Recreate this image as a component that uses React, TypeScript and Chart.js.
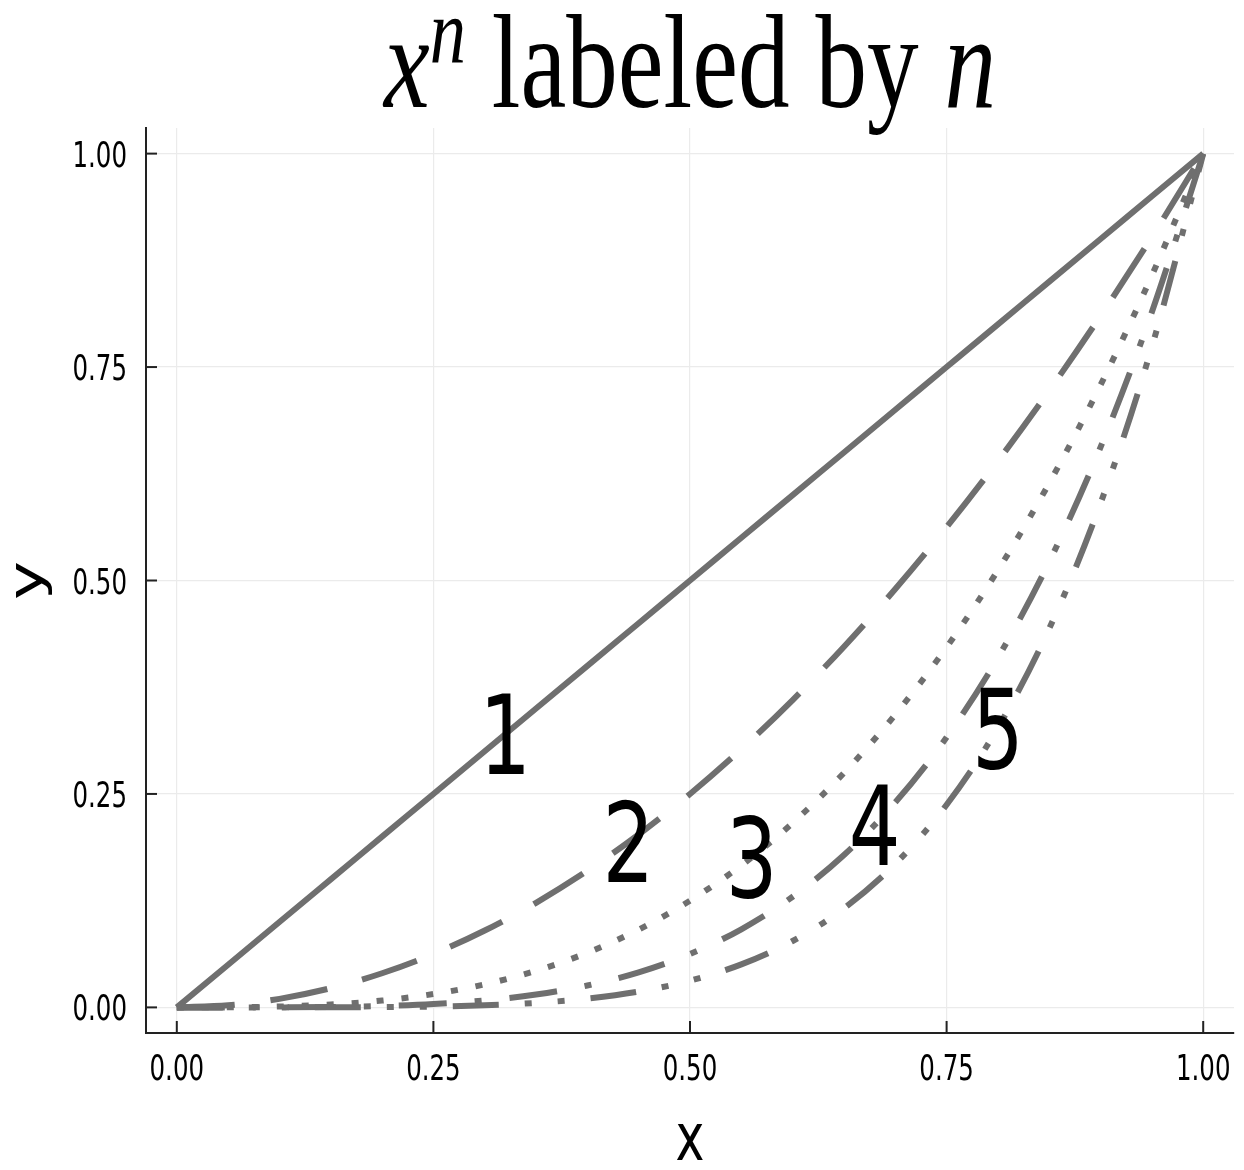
import React, { useEffect, useRef } from "react";
import { Chart, registerables } from "chart.js";

Chart.register(...registerables);

// ---- data ----
const xValues = [0, 0.05, 0.1, 0.15, 0.2, 0.25, 0.3, 0.35, 0.4, 0.45, 0.5, 0.55, 0.6, 0.65, 0.7, 0.75, 0.8, 0.85, 0.9, 0.95, 1];
const yPow1 = [0, 0.05, 0.1, 0.15, 0.2, 0.25, 0.3, 0.35, 0.4, 0.45, 0.5, 0.55, 0.6, 0.65, 0.7, 0.75, 0.8, 0.85, 0.9, 0.95, 1];
const yPow2 = [0, 0.0025, 0.01, 0.0225, 0.04, 0.0625, 0.09, 0.1225, 0.16, 0.2025, 0.25, 0.3025, 0.36, 0.4225, 0.49, 0.5625, 0.64, 0.7225, 0.81, 0.9025, 1];
const yPow3 = [0, 0.000125, 0.001, 0.003375, 0.008, 0.015625, 0.027, 0.042875, 0.064, 0.091125, 0.125, 0.166375, 0.216, 0.274625, 0.343, 0.421875, 0.512, 0.614125, 0.729, 0.857375, 1];
const yPow4 = [0, 0.00000625, 0.0001, 0.00050625, 0.0016, 0.00390625, 0.0081, 0.01500625, 0.0256, 0.04100625, 0.0625, 0.09150625, 0.1296, 0.17850625, 0.2401, 0.31640625, 0.4096, 0.52200625, 0.6561, 0.81450625, 1];
const yPow5 = [0, 0.0000003, 0.00001, 0.0000759, 0.00032, 0.000977, 0.00243, 0.00525, 0.01024, 0.01845, 0.03125, 0.05033, 0.07776, 0.11603, 0.16807, 0.2373, 0.32768, 0.44371, 0.59049, 0.77378, 1];
const seriesNames = ["1", "2", "3", "4", "5"];

const annotationX = [0.32, 0.44, 0.56, 0.68, 0.8];
const annotationY = [0.32, 0.1936, 0.1756, 0.2138, 0.3277];
const annotationText = ["1", "2", "3", "4", "5"];

const tickValues = [0, 0.25, 0.5, 0.75, 1];
const tickLabels = ["0.00", "0.25", "0.50", "0.75", "1.00"];

const xAxisTitle = "x";
const yAxisTitle = "y";

// ---- styles ----
const LINE_COLOR = "#6f6f6f";
const DASHES: number[][] = [[], [58, 36], [7, 18], [48, 28, 7, 28], [46, 26, 7, 26, 7, 26]];

function drawText(
  ctx: CanvasRenderingContext2D,
  text: string,
  x: number,
  y: number,
  font: string,
  align: CanvasTextAlign,
  compress: number
) {
  ctx.save();
  ctx.translate(x, y);
  ctx.scale(compress, 1);
  ctx.font = font;
  ctx.textAlign = align;
  ctx.textBaseline = "alphabetic";
  ctx.fillStyle = "#000";
  ctx.fillText(text, 0, 0);
  ctx.restore();
}

const textPlugin = {
  id: "juliaText",
  afterDraw(chart: any) {
    const ctx: CanvasRenderingContext2D = chart.ctx;
    const sx = chart.scales.x;
    const sy = chart.scales.y;
    const area = chart.chartArea;

    // inward ticks
    ctx.save();
    ctx.strokeStyle = "#222";
    ctx.lineWidth = 2;
    tickValues.forEach((v) => {
      const px = sx.getPixelForValue(v);
      ctx.beginPath();
      ctx.moveTo(px, area.bottom);
      ctx.lineTo(px, area.bottom - 12);
      ctx.stroke();
      const py = sy.getPixelForValue(v);
      ctx.beginPath();
      ctx.moveTo(area.left, py);
      ctx.lineTo(area.left + 11, py);
      ctx.stroke();
    });
    ctx.restore();

    // tick labels
    const tickFont = '36px "DejaVu Sans"';
    tickValues.forEach((v, i) => {
      drawText(ctx, tickLabels[i], sx.getPixelForValue(v), area.bottom + 47, tickFont, "center", 0.68);
      drawText(ctx, tickLabels[i], area.left - 19, sy.getPixelForValue(v) + 13, tickFont, "right", 0.68);
    });

    // axis titles
    const guideFont = '66px "DejaVu Sans"';
    const cx = (area.left + area.right) / 2;
    drawText(ctx, xAxisTitle, cx, area.bottom + 127, guideFont, "center", 0.74);
    ctx.save();
    ctx.translate(42, (area.top + area.bottom) / 2);
    ctx.rotate(-Math.PI / 2);
    ctx.scale(1, 0.74);
    ctx.font = guideFont;
    ctx.textAlign = "center";
    ctx.textBaseline = "alphabetic";
    ctx.fillStyle = "#000";
    ctx.fillText(yAxisTitle, 0, 0);
    ctx.restore();

    // annotations
    const annFont = '110px "DejaVu Sans"';
    annotationText.forEach((t, i) => {
      const px = sx.getPixelForValue(annotationX[i]);
      const py = sy.getPixelForValue(annotationY[i]);
      drawText(ctx, t, px, py + 40, annFont, "center", 0.74);
    });

    // title: x^n labeled by n
    const comp = 0.77;
    const size = 134;
    const fItal = `italic ${size}px "Liberation Serif"`;
    const fSup = `italic ${Math.round(size * 0.7)}px "Liberation Serif"`;
    const fUp = `${size}px "Liberation Serif"`;
    const parts = [
      { t: "x", f: fItal, dy: 0 },
      { t: "n", f: fSup, dy: -44 },
      { t: " labeled by ", f: fUp, dy: 0 },
      { t: "n", f: fItal, dy: 0 },
    ];
    ctx.save();
    let total = 0;
    const widths = parts.map((p) => {
      ctx.font = p.f;
      const w = ctx.measureText(p.t).width;
      total += w;
      return w;
    });
    ctx.restore();
    let x0 = cx - (total * comp) / 2;
    const baseY = 107;
    parts.forEach((p, i) => {
      drawText(ctx, p.t, x0, baseY + p.dy, p.f, "left", comp);
      x0 += widths[i] * comp;
    });
  },
};

export default function App() {
  const ref = useRef<HTMLCanvasElement | null>(null);

  useEffect(() => {
    if (!ref.current) return;
    const allY = [yPow1, yPow2, yPow3, yPow4, yPow5];
    const chart = new Chart(ref.current, {
      type: "line",
      data: {
        datasets: allY.map((ys, i) => ({
          label: seriesNames[i],
          data: xValues.map((x, j) => ({ x, y: ys[j] })),
          borderColor: LINE_COLOR,
          borderWidth: 6,
          borderDash: DASHES[i],
          borderCapStyle: "butt" as const,
          borderJoinStyle: "round" as const,
          cubicInterpolationMode: "monotone" as const,
          pointRadius: 0,
          fill: false,
        })),
      },
      options: {
        responsive: false,
        animation: false,
        devicePixelRatio: 1,
        layout: { padding: { left: 146, top: 128, right: 10, bottom: 137 } },
        plugins: {
          legend: { display: false },
          title: { display: false },
          tooltip: { enabled: false },
        },
        scales: {
          x: {
            type: "linear",
            min: -0.03,
            max: 1.03,
            ticks: { display: false },
            grid: { color: "#ebebeb", lineWidth: 1.2, drawTicks: false },
            border: { display: true, color: "#222", width: 2 },
            afterBuildTicks: (s: any) => {
              s.ticks = tickValues.map((v) => ({ value: v }));
            },
            afterFit: (s: any) => {
              s.height = 0;
            },
          },
          y: {
            type: "linear",
            min: -0.03,
            max: 1.03,
            ticks: { display: false },
            grid: { color: "#ebebeb", lineWidth: 1.2, drawTicks: false },
            border: { display: true, color: "#222", width: 2 },
            afterBuildTicks: (s: any) => {
              s.ticks = tickValues.map((v) => ({ value: v }));
            },
            afterFit: (s: any) => {
              s.width = 0;
            },
          },
        },
      },
      plugins: [textPlugin],
    });
    return () => chart.destroy();
  }, []);

  return (
    <div style={{ position: "absolute", left: 0, top: 0, width: 1244, height: 1170, background: "#fff" }}>
      <canvas ref={ref} width={1244} height={1170} style={{ display: "block" }} />
    </div>
  );
}
